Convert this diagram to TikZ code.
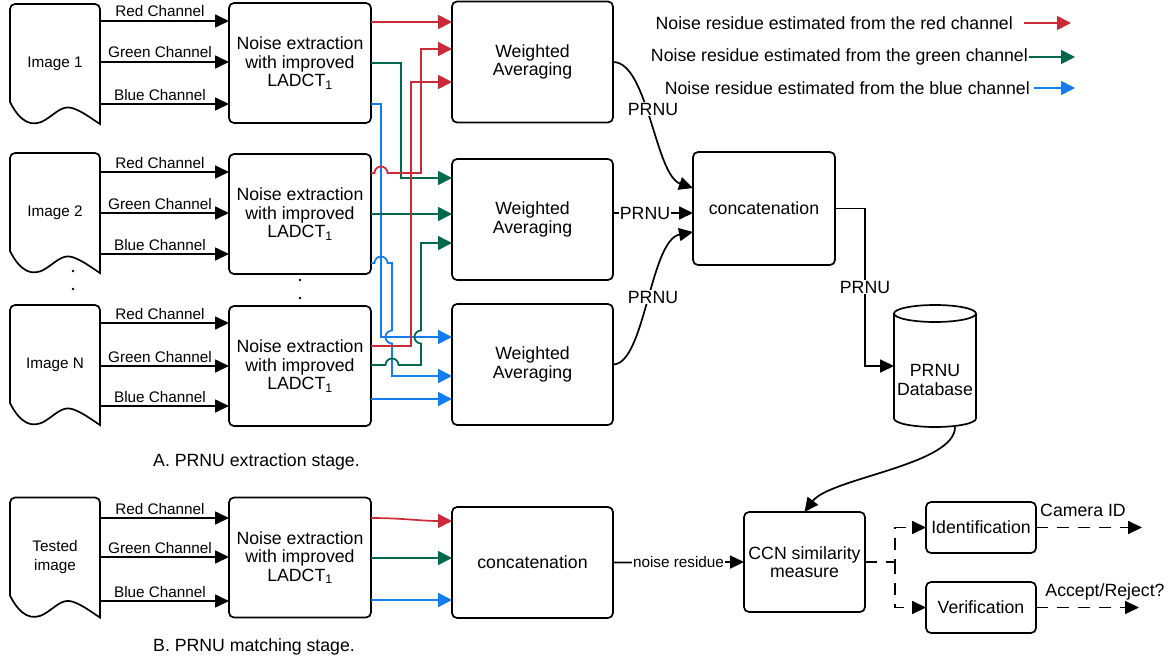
\documentclass[tikz,border=0pt]{standalone}
\usepackage{fontspec}
\setmainfont{Liberation Sans}
\usetikzlibrary{arrows.meta,calc}

\definecolor{chred}{RGB}{205,42,56}
\definecolor{chgreen}{RGB}{0,104,78}
\definecolor{chblue}{RGB}{18,124,240}

\newcommand{\fbig}{\fontsize{17.7}{18.5}\selectfont}
\newcommand{\fsmall}{\fontsize{15.3}{19}\selectfont}

% document-shaped outline around an (undrawn) image node
\newcommand{\docshape}[1]{%
  \draw[lw, shift={(#1.north west)}] (0,98) -- (0,5) arc[start angle=180,end angle=270,radius=5]
    -- (85,0) arc[start angle=270,end angle=360,radius=5] -- (90,120)
    .. controls (82,115) and (72,107) .. (62,104)
    .. controls (52,101) and (45,110) .. (35,116)
    .. controls (22,124) and (10,118) .. (0,98) -- cycle;}

% three channel arrows from an image to its noise-extraction block
\newcommand{\channels}[5]{%
  \draw[arr] (#1.east |- 0,#3) -- (#2.west |- 0,#3) node[chlab] {Red Channel};
  \draw[arr] (#1.east |- 0,#4) -- (#2.west |- 0,#4) node[chlab] {Green Channel};
  \draw[arr] (#1.east |- 0,#5) -- (#2.west |- 0,#5) node[chlab] {Blue Channel};}

\begin{document}
\begin{tikzpicture}[x=1pt,y=-1pt,
  lw/.style={line width=1.7pt},
  blk/.style={draw, lw, rounded corners=5pt, align=center, font=\fbig, inner sep=0pt, outer sep=0pt},
  nebox/.style={blk, minimum width=142, minimum height=120},
  wabox/.style={blk, minimum width=161, minimum height=121},
  docnode/.style={minimum width=90, minimum height=120, inner sep=0pt, outer sep=0pt, font=\fsmall, align=center},
  arr/.style={lw, -{Triangle[length=14pt,width=13pt]}},
  rw/.style={lw, chred, -{Triangle[length=14pt,width=14pt]}},
  gw/.style={lw, chgreen, -{Triangle[length=14pt,width=14pt]}},
  bw/.style={lw, chblue, -{Triangle[length=14pt,width=14pt]}},
  dsh/.style={lw, dash pattern=on 12pt off 9pt, -{Triangle[length=14pt,width=13pt]}},
  chlab/.style={pos=0.465, anchor=base, yshift=4pt, font=\fsmall, inner sep=0pt},
  lab/.style={font=\fbig, fill=white, inner sep=1pt},
  txt/.style={font=\fbig, inner sep=0pt}
]
\useasboundingbox (0,0) rectangle (1175,661);

% ---------- images ----------
\node[docnode] (img1) at (55,64) {Image 1};
\node[docnode] (img2) at (55,213) {Image 2};
\node[docnode] (img3) at (55,365) {Image N};
\node[docnode] (img4) at (55,557.5) {Tested\\image};
\foreach \n in {img1,img2,img3,img4} {\docshape{\n}}

% ---------- noise extraction blocks ----------
\node[nebox] (ne1) at (300,63) {Noise extraction\\with improved\\LADCT\textsubscript{1}};
\node[nebox] (ne2) at (300,214) {Noise extraction\\with improved\\LADCT\textsubscript{1}};
\node[nebox] (ne3) at (300,366) {Noise extraction\\with improved\\LADCT\textsubscript{1}};
\node[nebox] (ne4) at (300,557.5) {Noise extraction\\with improved\\LADCT\textsubscript{1}};

% ellipsis dots
\fill (73,271) circle[radius=1.3];
\fill (73,289) circle[radius=1.3];
\fill (300,280) circle[radius=1.3];
\fill (300,298) circle[radius=1.3];

\channels{img1}{ne1}{21}{62}{104}
\channels{img2}{ne2}{172}{213}{254}
\channels{img3}{ne3}{323}{366}{406}
\channels{img4}{ne4}{518}{557}{601}

% ---------- weighted averaging ----------
\node[wabox] (wa1) at (532.5,62) {Weighted\\Averaging};
\node[wabox] (wa2) at (532.5,219.5) {Weighted\\Averaging};
\node[wabox] (wa3) at (532.5,364.5) {Weighted\\Averaging};

% channel residues routed to the averaging blocks
\draw[rw] (ne1.east |- 0,22) -- (wa1.west |- 0,22);
\draw[gw] (ne1.east |- 0,63) -- (401,63) -- (401,178) -- (wa2.west |- 0,178);
\draw[bw] (ne1.east |- 0,104) -- (381,104) -- (381,337) -- (wa3.west |- 0,337);

\draw[rw] (ne2.east |- 0,173) -- (374.5,173) arc[start angle=180,end angle=360,radius=6.5]
  -- (421,173) -- (421,49) -- (wa1.west |- 0,49);
\draw[gw] (ne2.east |- 0,214) -- (wa2.west |- 0,214);
\draw[bw] (ne2.east |- 0,263) -- (374.5,263) arc[start angle=180,end angle=360,radius=6.5]
  -- (392,263) -- (392,330.5) arc[start angle=270,end angle=90,radius=6.5]
  -- (392,376) -- (wa3.west |- 0,376);

\draw[rw] (ne3.east |- 0,346) -- (411,346) -- (411,82) -- (wa1.west |- 0,82);
\draw[gw] (ne3.east |- 0,365) -- (385.5,365) arc[start angle=180,end angle=360,radius=6.5]
  -- (421,365) -- (421,343.5) arc[start angle=90,end angle=270,radius=6.5]
  -- (421,243) -- (wa2.west |- 0,243);
\draw[bw] (ne3.east |- 0,399) -- (wa3.west |- 0,399);

% ---------- concatenation and database ----------
\node[blk, minimum width=142, minimum height=113] (cc) at (764,208.5) {concatenation};

\draw[arr] (wa1.east) .. controls (648,62) and (655,175) .. (cc.west |- 0,188);
\node[lab] (p1) at (653,109) {PRNU};
\draw[arr] (wa2.east |- 0,213) -- (cc.west |- 0,213) node[lab, pos=0.4] {PRNU};
\draw[arr] (wa3.east) .. controls (645,364.5) and (650,240) .. (cc.west |- 0,232);
\node[lab] (p3) at (653,297) {PRNU};

\node[minimum width=82, minimum height=122, inner sep=0pt, outer sep=0pt] (db) at (935,366) {};
\draw[lw] (db.west |- 0,313.5) -- (db.west |- 0,418.5)
  arc[start angle=180,end angle=0,x radius=41,y radius=8.5]
  -- (db.east |- 0,313.5);
\draw[lw] (935,313.5) ellipse[x radius=41,y radius=8.5];
\node[txt, align=center] (dbt) at (935,380) {PRNU\\Database};

\draw[arr] (cc.east) -- ++(30,0) |- (db.west) node[lab, pos=0.25] {PRNU};

% ---------- legend ----------
\node[txt, anchor=east] (legr) at (1013,23) {Noise residue estimated from the red channel};
\node[txt, anchor=east] (legg) at (1028,57) {Noise residue estimated from the green channel};
\node[txt, anchor=east] (legb) at (1030,88) {Noise residue estimated from the blue channel};
\coordinate (legrtip) at (1071,23);
\coordinate (leggtip) at (1075,57);
\coordinate (legbtip) at (1075,88);
\draw[rw] ([xshift=11pt]legr.east) -- (legrtip);
\draw[gw] ([xshift=1pt]legg.east) -- (leggtip);
\draw[bw] ([xshift=4pt]legb.east) -- (legbtip);

% ---------- captions ----------
\node[txt, anchor=west] (capA) at (153,462) {A. PRNU extraction stage.};
\node[txt, anchor=west] (capB) at (153,647) {B. PRNU matching stage.};

% ---------- matching stage ----------
\node[wabox, minimum height=111] (c4) at (532.5,562.5) {concatenation};
\draw[rw] (ne4.east |- 0,518) to[out=0,in=180] (c4.west |- 0,521);
\draw[gw] (ne4.east |- 0,558) -- (c4.west |- 0,558);
\draw[bw] (ne4.east |- 0,600) -- (c4.west |- 0,600);

\node[blk, minimum width=121, minimum height=100] (ccn) at (804.5,562) {CCN similarity\\measure};
\draw[arr] (c4.east) -- (ccn.west) node[pos=0.5, fill=white, inner sep=1pt, font=\fsmall] {noise residue};

\draw[arr] ([xshift=20pt]db.south) .. controls (955,465) and (830,478) .. (ccn.north);

\node[blk, minimum width=110, minimum height=51] (ident) at (981,527.5) {Identification};
\node[blk, minimum width=110, minimum height=51] (verif) at (981,607.5) {Verification};

\draw[dsh] (ccn.east) -- ++(30,0) |- (ident.west);
\draw[dsh] (ccn.east) ++(30,0) |- (verif.west);

\coordinate (camtip) at (1142,527.5);
\coordinate (acctip) at (1139,607.5);
\draw[dsh] (ident.east) -- (camtip);
\draw[dsh] (verif.east) -- (acctip);
\node[txt] (camlab) at (1083,510) {Camera ID};
\node[txt] (acclab) at (1105,592) {Accept/Reject?};
\end{tikzpicture}
\end{document}
